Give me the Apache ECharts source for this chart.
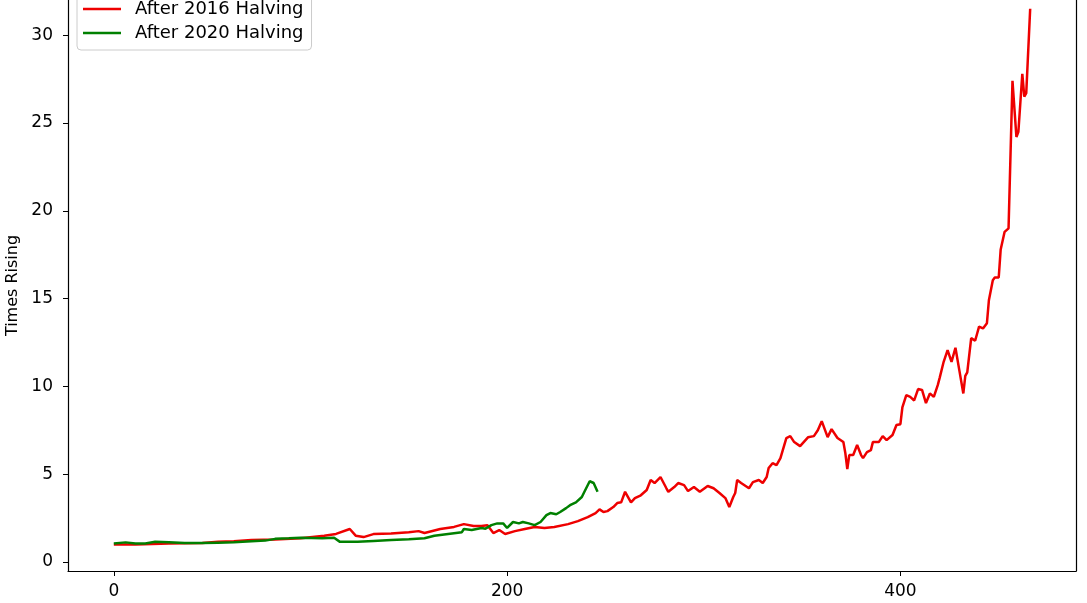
<!DOCTYPE html>
<html>
<head>
<meta charset="utf-8">
<script src="https://cdn.jsdelivr.net/npm/echarts@6/dist/echarts.min.js"></script>
<style>html,body{margin:0;padding:0;background:#fff;}#c{width:1087px;height:603px;}</style>
</head>
<body>
<div id="c"></div>
<script>
const seriesNames = ['After 2016 Halving', 'After 2020 Halving'];
const xTicks = [0, 200, 400];
const yTicks = [0, 5, 10, 15, 20, 25, 30];
const yLabel = 'Times Rising';

// [day, times rising]
const after2016 = [
  [0,1.0],[11,1.0],[28,1.05],[45,1.08],[53,1.15],[61,1.18],[70,1.25],[82,1.28],[95,1.35],
  [107,1.5],[113,1.6],[120,1.88],[123,1.5],[127,1.42],[132,1.59],[141,1.62],[150,1.7],
  [155,1.76],[158,1.65],[166,1.88],[173,2.0],[178,2.16],[183,2.05],[187,2.05],[190,2.1],
  [193,1.65],[196,1.82],[199,1.6],[204,1.76],[209,1.88],[214,2.0],[219,1.94],[224,2.0],
  [231,2.16],[236,2.33],[241,2.56],[245,2.79],[247,3.0],[249,2.85],[251,2.9],[254,3.13],
  [256,3.36],[258,3.4],[260,4.0],[263,3.4],[265,3.64],[268,3.8],[271,4.1],[273,4.67],
  [275,4.5],[278,4.84],[281,4.2],[282,4.0],[285,4.27],[287,4.5],[290,4.38],[292,4.04],
  [295,4.27],[298,4.0],[302,4.33],[305,4.2],[308,3.93],[311,3.64],[313,3.13],[315,3.7],
  [316,3.93],[317,4.67],[319,4.5],[320,4.55],[323,4.2],[325,4.55],[328,4.67],[330,4.5],
  [332,4.84],[333,5.35],[335,5.63],[337,5.52],[339,5.92],[342,7.06],[344,7.17],[346,6.83],
  [349,6.6],[353,7.1],[356,7.17],[358,7.5],[360,8.02],[363,7.11],[365,7.57],[368,7.06],
  [371,6.83],[372,6.2],[373,5.29],[374,6.09],[376,6.09],[378,6.66],[380,6.09],[381,5.92],
  [383,6.26],[385,6.37],[386,6.83],[389,6.83],[391,7.17],[393,6.94],[396,7.23],[398,7.8],
  [400,7.85],[401,8.8],[403,9.5],[405,9.4],[407,9.2],[409,9.85],[411,9.8],[413,9.05],
  [415,9.6],[417,9.4],[419,10.07],[420,10.5],[422,11.4],[424,12.07],[426,11.4],[428,12.2],
  [430,10.9],[432,9.6],[433,10.6],[434,10.8],[436,12.75],[438,12.6],[439,13.0],[440,13.4],
  [442,13.3],[443,13.2],[444,13.6],[445,14.9],[447,16.05],[448,16.2],[450,16.2],[451,17.8],
  [452,17.9],[453,18.8],[455,19.0],[457,27.4],[459,24.2],[460,24.5],[462,27.8],[463,26.5],
  [464,26.7],[466,31.5]
];
const after2020 = [
  [0,1.05],[6,1.12],[11,1.06],[16,1.06],[21,1.15],[28,1.12],[36,1.08],[45,1.08],[53,1.1],
  [61,1.12],[70,1.18],[77,1.22],[82,1.32],[89,1.35],[95,1.38],[106,1.35],[112,1.38],
  [115,1.15],[124,1.15],[132,1.2],[141,1.25],[150,1.3],[158,1.35],[163,1.5],[170,1.6],
  [177,1.7],[178,1.88],[182,1.82],[187,1.94],[189,1.9],[192,2.1],[195,2.2],[198,2.2],
  [200,1.94],[203,2.28],[206,2.2],[208,2.28],[211,2.2],[214,2.1],[217,2.28],[220,2.67],
  [222,2.79],[225,2.72],[227,2.85],[230,3.07],[232,3.24],[235,3.4],[238,3.7],[239,3.93],
  [242,4.6],[244,4.5],[246,4.0]
];

const font = 'DejaVu Sans';
const chart = echarts.init(document.getElementById('c'), null, {renderer: 'canvas'});
chart.setOption({
  animation: false,
  backgroundColor: '#fff',
  textStyle: {fontFamily: font},
  grid: {left: 68, right: 11, top: 0, bottom: 32, containLabel: false, outerBoundsMode: 'none'},
  legend: {
    left: 77, top: -5, orient: 'vertical',
    backgroundColor: 'rgba(255,255,255,0.8)', borderColor: '#cccccc', borderWidth: 1, borderRadius: 4,
    padding: [5, 8, 8, 6], itemGap: 6,
    icon: 'rect', itemWidth: 38, itemHeight: 2.5,
    textStyle: {fontFamily: font, fontSize: 18, color: '#000', padding: [0, 0, 0, 9]},
    data: seriesNames
  },
  xAxis: {
    type: 'value', min: -23.3, max: 489.3,
    axisLine: {show: true, onZero: false, lineStyle: {color: '#000', width: 1.2}},
    axisTick: {show: true, length: 5, customValues: xTicks, lineStyle: {color: '#000'}},
    axisLabel: {customValues: xTicks, margin: 12, fontSize: 17, color: '#000', fontFamily: font},
    splitLine: {show: false}
  },
  yAxis: [{
    type: 'value', min: -0.51, max: 32.0,
    name: yLabel, nameLocation: 'middle', nameGap: 42,
    nameTextStyle: {fontSize: 16, color: '#000', fontFamily: font},
    axisLine: {show: true, onZero: false, lineStyle: {color: '#000', width: 1.2}},
    axisTick: {show: true, length: 5, customValues: yTicks, lineStyle: {color: '#000'}},
    axisLabel: {customValues: yTicks, margin: 15, fontSize: 17, color: '#000', fontFamily: font},
    splitLine: {show: false}
  }, {
    type: 'value', position: 'right', min: -0.51, max: 32.0,
    axisLine: {show: true, onZero: false, lineStyle: {color: '#000', width: 1.2}},
    axisTick: {show: false}, axisLabel: {show: false}, splitLine: {show: false}
  }],
  series: [
    {name: seriesNames[0], type: 'line', data: after2016, showSymbol: false, symbol: 'none',
     lineStyle: {color: '#ee0000', width: 2.5}, itemStyle: {color: '#ee0000'}},
    {name: seriesNames[1], type: 'line', data: after2020, showSymbol: false, symbol: 'none',
     lineStyle: {color: '#008000', width: 2.5}, itemStyle: {color: '#008000'}}
  ]
});
</script>
</body>
</html>
